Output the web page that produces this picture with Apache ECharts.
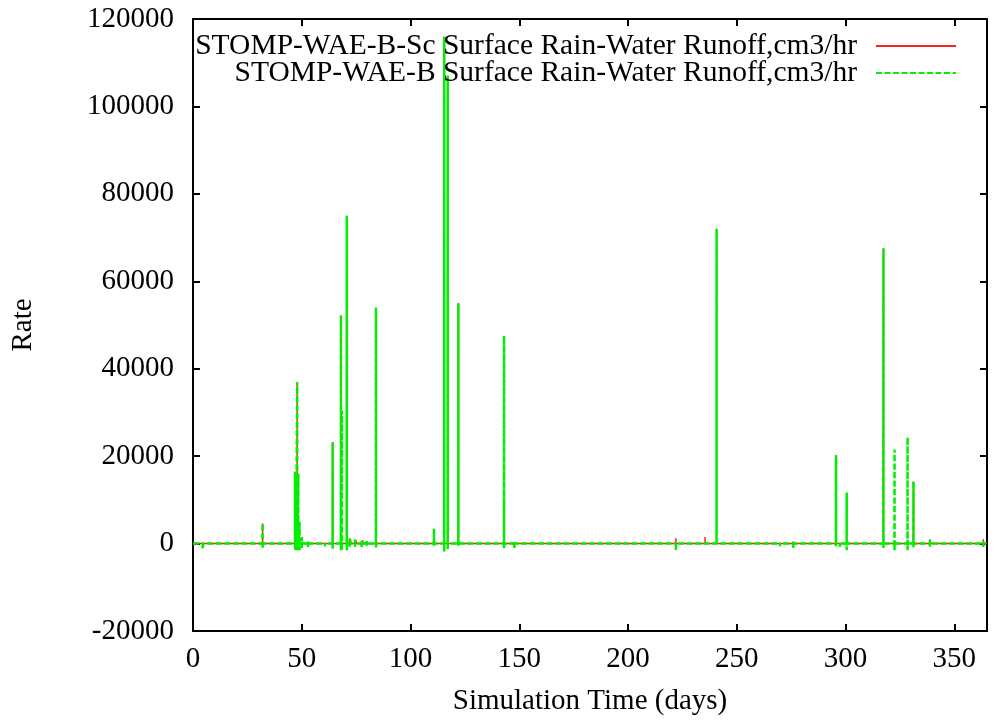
<!DOCTYPE html>
<html>
<head>
<meta charset="utf-8">
<script src="https://cdn.jsdelivr.net/npm/echarts@6/dist/echarts.min.js"></script>
<style>html,body{margin:0;padding:0;background:#fff}#c{width:993px;height:723px}</style>
</head>
<body>
<div id="c"></div>
<script>
// ---- Data (days, rate cm3/hr) ----
var seriesNames = [
  'STOMP-WAE-B-Sc Surface Rain-Water Runoff,cm3/hr',
  'STOMP-WAE-B Surface Rain-Water Runoff,cm3/hr'
];
// STOMP-WAE-B-Sc (red): spike days, peak values, low values
var scSpikeDays = [4.5, 32.0, 47.9, 64.2, 68.0, 70.7, 72.5, 75.0, 78.0, 117.1, 122.0, 143.0, 222.0, 235.4, 276.0, 295.6, 317.4, 331.2, 338.8, 363.3];
var scSpikeTops = [400, 4600, 36900, 23200, 52200, 75000, 900, 700, 800, 107000, 55000, 9000, 1200, 1500, 500, 20200, 67500, 14200, 1000, 1000];
var scSpikeLows = [0, 0, 0, 0, 0, 0, 0, 0, 0, 0, 0, 0, 0, 0, 0, 0, 0, 0, 0, 0];
// STOMP-WAE-B (green): spike days, peak values, low values
var bSpikeDays = [4.5, 32.0, 46.9, 47.4, 47.9, 48.4, 49.0, 50.0, 52.9, 60.7, 64.2, 68.0, 68.5, 70.7, 72.0, 74.5, 77.5, 79.9, 84.1, 110.8, 115.5, 117.1, 122.0, 143.0, 147.7, 222.0, 235.4, 240.7, 269.8, 276.0, 295.6, 297.4, 300.5, 317.4, 322.5, 328.5, 331.2, 338.8, 343.4, 363.3];
var bSpikeTops = [0, 4600, 16500, 8000, 36900, 16000, 5000, 1500, 500, 300, 23200, 52200, 30300, 75000, 1200, 1000, 800, 600, 54000, 3400, 116000, 107000, 55000, 47500, 600, 0, 300, 72000, 300, 200, 20200, 0, 11700, 67500, 21500, 24300, 14200, 800, 300, 600];
var bSpikeLows = [-1300, -1000, -1500, -1500, -1500, -1200, -1500, -1000, -800, -600, -1200, -1500, -1500, -1500, -1000, -700, -800, -500, -1000, -500, -1800, -1500, -500, -1200, -1000, -1500, -300, 0, -600, -1000, -600, -800, -1500, -1000, -1500, -1500, -1000, -700, -400, -800];
var xTicks = {min: 0, max: 365, interval: 50};
var yTicks = {min: -20000, max: 120000, interval: 20000};

function buildSeries(days, tops, lows) {
  var pts = [[xTicks.min, 0]];
  for (var i = 0; i < days.length; i++) {
    pts.push([days[i] - 0.04, 0]);
    pts.push([days[i], tops[i]]);
    pts.push([days[i], lows[i]]);
    pts.push([days[i] + 0.04, 0]);
  }
  pts.push([xTicks.max, 0]);
  return pts;
}

var FONT = "'Liberation Serif','Times New Roman',serif";
var FS = 29;
var chart = echarts.init(document.getElementById('c'), null, {renderer: 'canvas'});

function xAx(pos, showLabel) {
  return {
    type: 'value', position: pos, min: xTicks.min, max: xTicks.max, interval: xTicks.interval,
    axisLine: {show: true, onZero: false, lineStyle: {color: '#000', width: 2}},
    axisTick: {show: true, inside: true, length: 7, lineStyle: {color: '#000', width: 2}},
    axisLabel: {show: showLabel, color: '#000', fontFamily: FONT, fontSize: FS, margin: 14,
      formatter: function (v) { return v % 50 === 0 ? String(v) : ''; }},
    splitLine: {show: false},
    name: showLabel ? 'Simulation Time (days)' : '',
    nameLocation: 'middle', nameGap: 56,
    nameTextStyle: {color: '#000', fontFamily: FONT, fontSize: FS}
  };
}
function yAx(pos, showLabel) {
  return {
    type: 'value', position: pos, min: yTicks.min, max: yTicks.max, interval: yTicks.interval,
    axisLine: {show: true, onZero: false, lineStyle: {color: '#000', width: 2}},
    axisTick: {show: true, inside: true, length: 7, lineStyle: {color: '#000', width: 2}},
    axisLabel: {show: showLabel, color: '#000', fontFamily: FONT, fontSize: FS, margin: 19,
      formatter: function (v) { return String(v); }},
    splitLine: {show: false},
    name: showLabel ? 'Rate' : '',
    nameLocation: 'middle', nameGap: 155, nameRotate: 90,
    nameTextStyle: {color: '#000', fontFamily: FONT, fontSize: FS}
  };
}

chart.setOption({
  animation: false,
  backgroundColor: '#fff',
  grid: {left: 193, top: 19, width: 794, height: 612, containLabel: false, outerBoundsMode: 'none'},
  legend: {
    orient: 'vertical', right: 36, top: 31, align: 'right',
    itemWidth: 80, itemHeight: 14, itemGap: -3, padding: 0,
    itemStyle: {opacity: 0, borderWidth: 0},
    textStyle: {color: '#000', fontFamily: FONT, fontSize: 29.5, lineHeight: 28, padding: [0, 14, 0, 0]},
    data: seriesNames
  },
  xAxis: [xAx('bottom', true), xAx('top', false)],
  yAxis: [yAx('left', true), yAx('right', false)],
  series: [
    {
      name: seriesNames[0], type: 'line', symbol: 'none', showSymbol: false,
      xAxisIndex: 0, yAxisIndex: 0,
      lineStyle: {color: '#ff2020', width: 1.5},
      itemStyle: {color: '#ff2020'},
      data: buildSeries(scSpikeDays, scSpikeTops, scSpikeLows)
    },
    {
      name: seriesNames[1], type: 'line', symbol: 'none', showSymbol: false,
      xAxisIndex: 0, yAxisIndex: 0,
      lineStyle: {color: '#00ee00', width: 2.5, type: [6, 2.5]},
      itemStyle: {color: '#00ee00'},
      data: buildSeries(bSpikeDays, bSpikeTops, bSpikeLows)
    }
  ]
});
</script>
</body>
</html>
